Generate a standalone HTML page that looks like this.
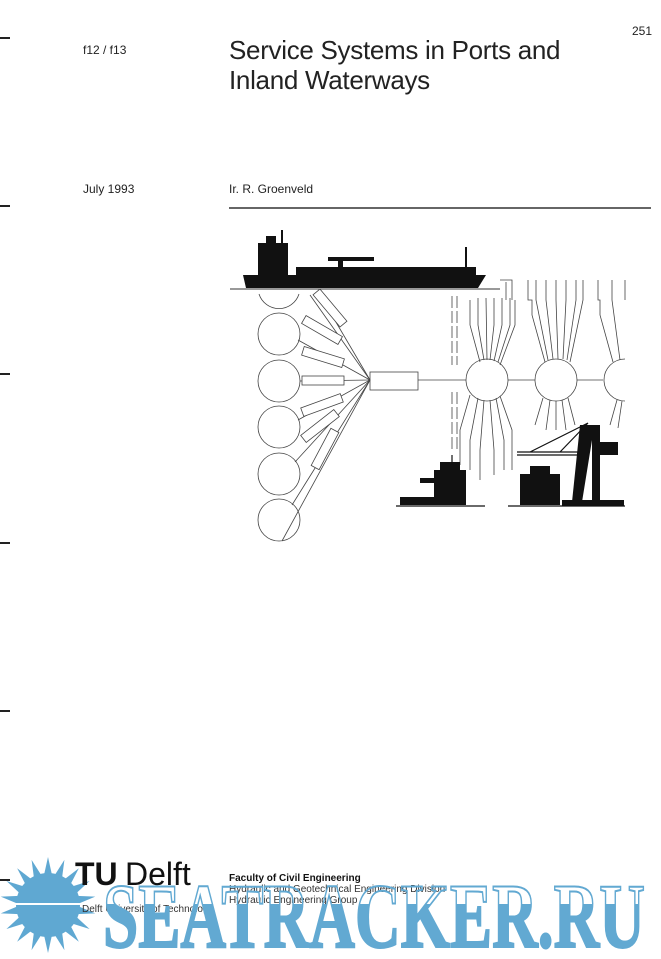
<!DOCTYPE html>
<html><head><meta charset="utf-8"><style>
body{margin:0;background:#fff;}
.p{position:relative;width:661px;height:959px;overflow:hidden;font-family:"Liberation Sans",sans-serif;color:#222;}
.t{position:absolute;white-space:nowrap;}
</style></head><body><div class="p">
<div class="t" style="left:632px;top:24px;font-size:12px">251</div>
<div class="t" style="left:83px;top:43px;font-size:12px">f12 / f13</div>
<div class="t" style="left:229px;top:35px;font-size:26px;line-height:30px;letter-spacing:-0.3px">Service Systems in Ports and<br>Inland Waterways</div>
<div class="t" style="left:83px;top:182px;font-size:12px">July 1993</div>
<div class="t" style="left:229px;top:182px;font-size:12px">Ir. R. Groenveld</div>
<div style="position:absolute;left:229px;top:207px;width:422px;height:2px;background:#666"></div>
<svg width="661" height="959" style="position:absolute;left:0;top:0" xmlns="http://www.w3.org/2000/svg">
<defs><clipPath id="low"><rect x="0" y="904" width="661" height="60"/></clipPath></defs>
<g stroke="#222" stroke-width="2">
<line x1="0" y1="38" x2="10" y2="38"/><line x1="0" y1="206" x2="10" y2="206"/><line x1="0" y1="374" x2="10" y2="374"/><line x1="0" y1="543" x2="10" y2="543"/><line x1="0" y1="711" x2="10" y2="711"/><line x1="0" y1="880" x2="10" y2="880"/>
</g>
<g fill="#111">
<path d="M243 275 L486 275 L478 288 L246 288 Z"/>
<rect x="258" y="243" width="30" height="32"/>
<rect x="266" y="236" width="10" height="8"/>
<rect x="296" y="267" width="180" height="8"/>
<rect x="328" y="257" width="46" height="4"/>
<rect x="338" y="258" width="5" height="10"/>
<line x1="282" y1="230" x2="282" y2="244" stroke="#111" stroke-width="2"/>
<line x1="466" y1="247" x2="466" y2="268" stroke="#111" stroke-width="2"/>
</g>
<line x1="230" y1="289" x2="500" y2="289" stroke="#333" stroke-width="1"/>
<g fill="none" stroke="#444" stroke-width="0.8">
<path d="M259 294 A21 21 0 0 0 299 294"/>
<circle cx="279" cy="334" r="21"/><circle cx="279" cy="381" r="21"/><circle cx="279" cy="427" r="21"/><circle cx="279" cy="474" r="21"/><circle cx="279" cy="520" r="21"/>
<line x1="370" y1="380" x2="310" y2="295"/>
<line x1="370" y1="380" x2="320" y2="295"/>
<line x1="370" y1="380" x2="298" y2="340"/>
<line x1="370" y1="380" x2="300" y2="381"/>
<line x1="370" y1="380" x2="298" y2="420"/>
<line x1="370" y1="380" x2="295" y2="462"/>
<line x1="370" y1="380" x2="292" y2="505"/>
<line x1="370" y1="380" x2="282" y2="541"/>
<rect x="302" y="376" width="42" height="9" fill="#fff"/>
<g fill="#fff">
<rect x="-21" y="-4.5" width="42" height="9" transform="translate(322,330) rotate(30)"/>
<rect x="-21" y="-4.5" width="42" height="9" transform="translate(330,308) rotate(50)"/>
<rect x="-21" y="-4.5" width="42" height="9" transform="translate(323,357) rotate(17)"/>
<rect x="-21" y="-4.5" width="42" height="9" transform="translate(322,405) rotate(-20)"/>
<rect x="-21" y="-4.5" width="42" height="9" transform="translate(320,426) rotate(-38)"/>
<rect x="-21" y="-4.5" width="42" height="9" transform="translate(325,449) rotate(-62)"/>
</g>
<rect x="370" y="372" width="48" height="18"/>
<line x1="418" y1="380" x2="466" y2="380"/>
<circle cx="487" cy="380" r="21"/><line x1="508" y1="380" x2="535" y2="380"/>
<circle cx="556" cy="380" r="21"/><line x1="577" y1="380" x2="603" y2="380"/>
<path d="M625 359 A21 21 0 0 0 625 401"/>
<line x1="452" y1="296" x2="452" y2="365" stroke-dasharray="12 3"/>
<line x1="457" y1="296" x2="457" y2="365" stroke-dasharray="12 3"/>
<line x1="452" y1="392" x2="452" y2="450" stroke-dasharray="12 3"/>
<line x1="457" y1="392" x2="457" y2="450" stroke-dasharray="12 3"/>
<path d="M470 300 L470 325 L480 362 M478 298 L478 325 L484 360 M486 298 L487 360 M494 298 L494 325 L490 360 M502 298 L502 325 L494 361 M510 298 L510 325 L498 362 M515 300 L515 325 L500 365"/>
<path d="M470 395 L460 430 L460 465 M478 398 L470 440 L470 470 M484 400 L480 450 L480 480 M490 400 L494 450 L494 475 M496 398 L504 440 L504 470 M500 396 L512 430 L512 470"/>
<path d="M528 280 L528 300 L532 300 L532 315 L545 362 M536 280 L536 300 L548 360 M546 280 L546 300 L553 359 M556 280 L556 300 L558 359 M566 280 L566 300 L563 359 M576 280 L576 300 L567 360 M583 280 L583 300 L570 362"/>
<path d="M543 398 L535 425 M550 400 L546 430 M556 401 L556 430 M562 400 L566 430 M568 398 L575 425"/>
<path d="M598 280 L598 300 L600 300 L600 315 L613 362 M612 280 L612 300 L620 360 M625 280 L625 300"/>
<path d="M617 400 L610 425 M622 401 L618 428"/>
<path d="M500 280 L512 280 L512 300 M506 282 L506 300"/>
</g>
<g fill="#111">
<rect x="434" y="470" width="32" height="35"/>
<rect x="440" y="462" width="20" height="9"/>
<rect x="420" y="478" width="14" height="5"/>
<rect x="400" y="497" width="34" height="8"/>
<rect x="520" y="474" width="40" height="31"/>
<rect x="530" y="466" width="20" height="9"/>
<path d="M580 425 L600 425 L600 502 L592 502 L592 440 L582 502 L572 502 Z"/>
<rect x="598" y="442" width="20" height="13"/>
<rect x="562" y="500" width="62" height="6"/>
</g>
<g stroke="#111" fill="none" stroke-width="1.2">
<path d="M517 452 L578 452 M517 455 L578 455 M588 423 L530 452 M588 423 L560 452"/>
<line x1="396" y1="506" x2="485" y2="506"/>
<line x1="508" y1="506" x2="625" y2="506"/>
<line x1="452" y1="455" x2="452" y2="465"/>
</g>
<g fill="#5fa8d2">
<circle cx="48" cy="905" r="32"/>
<g transform="translate(48,905)">
<path d="M-4 -30 L0 -48 L4 -30 Z" transform="rotate(0)"/><path d="M-4 -30 L0 -48 L4 -30 Z" transform="rotate(20)"/><path d="M-4 -30 L0 -48 L4 -30 Z" transform="rotate(40)"/><path d="M-4 -30 L0 -48 L4 -30 Z" transform="rotate(60)"/><path d="M-4 -30 L0 -48 L4 -30 Z" transform="rotate(80)"/><path d="M-4 -30 L0 -48 L4 -30 Z" transform="rotate(100)"/><path d="M-4 -30 L0 -48 L4 -30 Z" transform="rotate(120)"/><path d="M-4 -30 L0 -48 L4 -30 Z" transform="rotate(140)"/><path d="M-4 -30 L0 -48 L4 -30 Z" transform="rotate(160)"/><path d="M-4 -30 L0 -48 L4 -30 Z" transform="rotate(180)"/><path d="M-4 -30 L0 -48 L4 -30 Z" transform="rotate(200)"/><path d="M-4 -30 L0 -48 L4 -30 Z" transform="rotate(220)"/><path d="M-4 -30 L0 -48 L4 -30 Z" transform="rotate(240)"/><path d="M-4 -30 L0 -48 L4 -30 Z" transform="rotate(260)"/><path d="M-4 -30 L0 -48 L4 -30 Z" transform="rotate(280)"/><path d="M-4 -30 L0 -48 L4 -30 Z" transform="rotate(300)"/><path d="M-4 -30 L0 -48 L4 -30 Z" transform="rotate(320)"/><path d="M-4 -30 L0 -48 L4 -30 Z" transform="rotate(340)"/>
</g>
</g>
<rect x="15" y="903" width="66" height="2" fill="#fff"/>
<text x="75" y="885" font-family="Liberation Sans" font-weight="bold" font-size="32" fill="#111">TU</text>
<text x="125" y="885" font-family="Liberation Sans" font-size="32" fill="#111">Delft</text>
<text x="82" y="912" font-family="Liberation Sans" font-size="10" fill="#333">Delft University of Technology</text>
<text x="229" y="881" font-family="Liberation Sans" font-weight="bold" font-size="10" fill="#111">Faculty of Civil Engineering</text>
<text x="229" y="892" font-family="Liberation Sans" font-size="10" fill="#333">Hydraulic and Geotechnical Engineering Division</text>
<text x="229" y="903" font-family="Liberation Sans" font-size="10" fill="#333">Hydraulic Engineering Group</text>
<text x="103" y="947" font-family="Liberation Serif" font-weight="bold" font-size="92" textLength="542" lengthAdjust="spacingAndGlyphs" fill="none" stroke="#62a9d2" stroke-width="2">SEATRACKER.RU</text>
<text x="103" y="947" font-family="Liberation Serif" font-weight="bold" font-size="92" textLength="542" lengthAdjust="spacingAndGlyphs" fill="#62a9d2" clip-path="url(#low)">SEATRACKER.RU</text>
</svg>
</div></body></html>
